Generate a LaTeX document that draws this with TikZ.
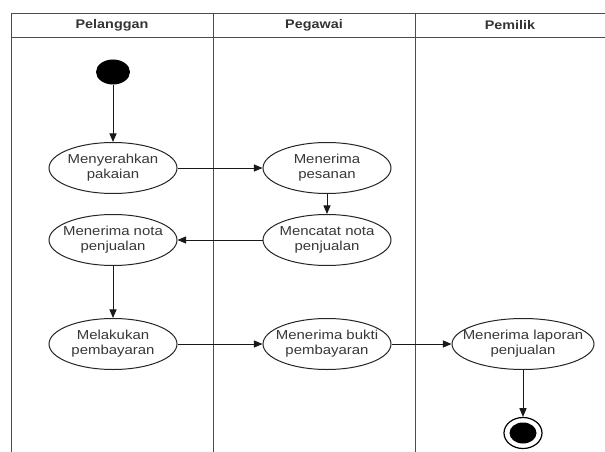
\documentclass[tikz,border=0pt]{standalone}
\usepackage{fontspec}
\setmainfont[FakeStretch=1.15]{Liberation Sans}
\usetikzlibrary{arrows}
\usetikzlibrary{shapes}
\tikzset{
  act/.style={ellipse,draw=black!85,fill=white,line width=1pt,minimum width=128pt,
    minimum height=51pt,inner xsep=-14pt,inner ysep=0pt,align=center,text=black!78,
    font=\fontsize{13}{15}\selectfont},
  lane/.style={draw=black!70,line width=1pt},
  flow/.style={-triangle 45,line width=1pt,draw=black!90},
}

\begin{document}
\begin{tikzpicture}[x=1pt,y=-1pt]
    \useasboundingbox (0,0) rectangle (605,452);
    % swimlanes
    \draw[lane] (605,14) -- (11,14) -- (11,452);
    \draw[lane] (11,38) -- (605,38);
    \foreach \x in {213,415}
      \draw[lane] (\x,14) -- (\x,452);
    \foreach \x/\t/\k in {112/Pelanggan/0,314/Pegawai/1,510/Pemilik/2}
      \node[font=\bfseries\fontsize{12.5}{14}\selectfont,text=black!80] (h\k) at (\x,25) {\t};

    % activities
    \foreach \x/\y/\t/\k in
       {113/168/{Menyerahkan\\pakaian}/a1,327/168/{Menerima\\pesanan}/b1,
        327/240/{Mencatat nota\\penjualan}/b2,113/240/{Menerima nota\\penjualan}/a2,
        113/344/{Melakukan\\pembayaran}/a3,327/344/{Menerima bukti\\pembayaran}/b3}
        \node[act] (\k) at (\x,\y) {\t};
    \node[act,minimum width=142pt] (c1) at (523,344) {Menerima laporan\\penjualan};

    % start and end
    \node[ellipse,fill=black,minimum width=34pt,minimum height=25pt,inner sep=0pt] (start) at (113,72) {};
    \node[ellipse,draw=black,fill=white,line width=1.2pt,minimum width=38pt,minimum height=31pt,inner sep=0pt] (end) at (523,433) {};
    \node[ellipse,fill=black,minimum width=27pt,minimum height=21pt,inner sep=0pt] (endin) at (end) {};

    \draw[flow] (start) -- (a1);
    \draw[flow] (a1) -- (b1);
    \draw[flow] (b1) -- (b2);
    \draw[flow] (b2) -- (a2);
    \draw[flow] (a2) -- (a3);
    \draw[flow] (a3) -- (b3);
    \draw[flow] (b3) -- (c1);
    \draw[flow] (c1) -- (end);
\end{tikzpicture}
\end{document}
